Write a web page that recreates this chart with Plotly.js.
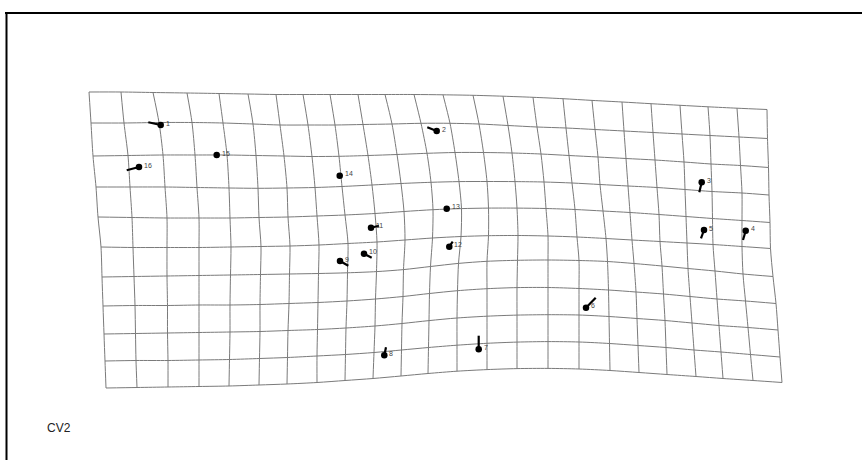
<!DOCTYPE html>
<html>
<head>
<meta charset="utf-8">
<script src="https://cdn.plot.ly/plotly-3.0.1.min.js"></script>
<style>
  html, body { margin: 0; padding: 0; background: #ffffff; }
  #chart { width: 862px; height: 460px; }
</style>
</head>
<body>
<div id="chart"></div>
<script>
// Deformation grid for CV2: node x positions, one array per grid column (top to bottom)
const colX = [
  [89, 91, 93, 96, 98, 101, 102, 103, 104, 105, 106],
  [121, 124, 128, 130, 132, 133, 134, 135, 135.5, 136, 137],
  [153, 159, 163, 165, 167, 167, 167, 167.5, 167.5, 168, 168],
  [187, 192, 195, 197, 199, 199, 199, 199, 199, 199, 199],
  [219, 223, 227, 229, 230, 231, 230.5, 230, 230, 229.5, 229],
  [248, 253, 256, 258, 259, 261, 260.5, 260, 260, 259.5, 259],
  [276, 280, 284, 287, 288, 290, 289.5, 289, 288, 287.5, 287],
  [303, 308, 312, 315, 317, 319, 318.5, 318, 317.5, 317, 317],
  [330, 335, 339, 342, 345, 348, 347.5, 347, 346, 345.5, 345],
  [358, 363, 368, 372, 375, 377, 376.5, 375.5, 375, 374, 373],
  [385, 392, 397, 401, 404, 405, 403.5, 403, 402, 401.5, 401],
  [414, 421, 427, 431, 433, 432.5, 430.5, 429.5, 429, 428.5, 428],
  [443, 450, 455, 459, 461.5, 461, 458.5, 457.5, 457, 457, 457],
  [473, 479, 483.5, 487, 488.5, 488.5, 487, 487, 487, 487, 487],
  [503, 508, 512, 515, 517, 518, 517.5, 517, 517, 517, 517],
  [533, 537, 541, 544, 546, 548, 548, 548, 548, 548, 548],
  [563, 566, 569, 572, 575, 577, 579, 579, 579, 579, 579],
  [592, 595, 598, 600, 603, 606, 607.5, 608.5, 609, 609.5, 610],
  [622, 624, 626, 628, 630, 632, 634, 636, 637, 638, 639],
  [651, 653, 655, 657, 659, 660, 662, 663.5, 665, 666, 667],
  [680, 682, 684, 685, 686, 687, 688, 690, 692, 694, 696],
  [708, 710, 711, 712, 712.5, 713, 715, 717, 719, 721, 723],
  [737, 739, 740.5, 742, 742, 742, 743, 745.5, 748, 750.5, 753],
  [767, 767.5, 768.5, 769, 770, 770.5, 773, 776, 778, 780, 782]
];

// Node y positions, one array per grid row (left to right)
const rowY = [
  [92, 92, 92.5, 93, 93.5, 94, 94.5, 94.5, 94.5, 94.5, 94.5, 94.5, 94.8, 95.3, 96.2, 97.3, 98.7, 100.4, 102, 103.7, 105.3, 106.8, 108.2, 109.5],
  [123, 123, 122.5, 122.5, 123, 124, 125, 125, 125, 124.5, 124, 123.3, 123.3, 124, 125.5, 127, 128, 129.5, 131, 132.5, 134, 135.5, 137, 138.5],
  [156, 155.5, 155, 155, 155, 155.5, 156, 156.5, 156.3, 155.5, 154.5, 153.3, 152.5, 152.5, 153, 154, 155.5, 157, 158.5, 160, 162, 164, 165.5, 167.5],
  [187, 187, 187, 187.5, 188, 188.3, 188, 187.5, 186.5, 185, 183.5, 182.3, 181.6, 181.5, 181.6, 182, 183, 184.5, 186, 187.5, 189.5, 191.5, 193, 195],
  [217, 217.5, 218, 218, 218, 217.5, 217, 216, 215, 213.5, 211.5, 209.7, 208.6, 208.1, 208.1, 208.5, 209.5, 211, 212.5, 214.5, 216.5, 218.5, 220.5, 222.5],
  [247, 247.5, 247.5, 247.5, 247, 246.5, 246, 245, 243.5, 242, 240, 238, 236.5, 235.7, 235.5, 236, 237, 238.5, 240, 241.5, 243, 244.5, 246.5, 248.5],
  [277, 276.5, 276, 275.5, 275, 274.5, 274, 273.5, 272.8, 271.6, 269.6, 266.5, 263.4, 261.3, 260.3, 260, 260.5, 261.5, 263.5, 266, 268.5, 271, 274, 276.5],
  [306, 305.5, 305.5, 305, 305, 304.5, 303.5, 302.5, 301, 299, 296.5, 293.5, 290.7, 288.7, 287.6, 287.5, 288.5, 290, 292, 294, 296.5, 299, 301, 303.5],
  [334, 333.5, 333, 332.5, 332, 331.5, 330.5, 329.5, 328, 326, 323.5, 320.6, 318, 316.2, 315.1, 314.7, 315, 316.5, 318.5, 320.5, 323, 325.5, 327.5, 330],
  [361, 360.5, 360.5, 360, 359.5, 358.5, 357.5, 356, 354.5, 352.5, 350, 347.5, 345.2, 343.3, 342.1, 341.6, 342, 343.5, 345.5, 347.5, 350, 352, 354.5, 357],
  [388, 387.5, 387, 386.5, 386, 385, 384, 382.5, 380.5, 378.5, 376, 373.5, 371.2, 369.6, 368.6, 368.4, 369, 370.5, 372.5, 374.5, 376.5, 378.5, 380.5, 382.5]
];

// Landmarks: labels, positions and shape-change vectors
const lmLabel = ['1', '2', '3', '4', '5', '6', '7', '8', '9', '10', '11', '12', '13', '14', '15', '16'];
const lmX  = [160.7, 436.7, 701.7, 745.7, 704, 586, 478.7, 384.3, 340, 364, 371, 449.3, 446.7, 339.7, 216.7, 139];
const lmY  = [125, 131, 182.3, 230.7, 230, 307.7, 349.3, 355.3, 261, 253.7, 227.7, 246.7, 208.7, 175.7, 155, 167];
const lmDX = [-12.4, -9.4, -2.4, -2.7, -3, 9.7, 0, 1.7, 8.3, 7.7, 8, 3.4, 0, 0, 1.6, -12.3];
const lmDY = [-2.7, -3.7, 10, 9.3, 8.3, -10, -13.6, -8, 4.7, 4, -2, -5, 0, 0, 2.3, 3.3];

const nRows = rowY.length;
const nCols = colX.length;

const traces = [];
const gridLine = { color: '#7a7a7a', width: 1, shape: 'spline', smoothing: 0.8 };

// horizontal grid lines
for (let r = 0; r < nRows; r++) {
  const xs = [], ys = [];
  for (let c = 0; c < nCols; c++) { xs.push(colX[c][r]); ys.push(rowY[r][c]); }
  traces.push({ type: 'scatter', mode: 'lines', x: xs, y: ys, line: gridLine, hoverinfo: 'skip', showlegend: false });
}
// vertical grid lines
for (let c = 0; c < nCols; c++) {
  const xs = [], ys = [];
  for (let r = 0; r < nRows; r++) { xs.push(colX[c][r]); ys.push(rowY[r][c]); }
  traces.push({ type: 'scatter', mode: 'lines', x: xs, y: ys, line: gridLine, hoverinfo: 'skip', showlegend: false });
}

// lollipop sticks
const sx = [], sy = [];
for (let i = 0; i < lmX.length; i++) {
  sx.push(lmX[i], lmX[i] + lmDX[i], null);
  sy.push(lmY[i], lmY[i] + lmDY[i], null);
}
traces.push({ type: 'scatter', mode: 'lines', x: sx, y: sy, line: { color: '#000000', width: 2.2 }, hoverinfo: 'skip', showlegend: false });

// landmark dots
traces.push({ type: 'scatter', mode: 'markers', x: lmX, y: lmY, text: lmLabel,
  marker: { color: '#000000', size: 6.5 }, hoverinfo: 'text', showlegend: false });

// landmark numbers
const annotations = lmLabel.map((t, i) => ({
  x: lmX[i], y: lmY[i], xref: 'x', yref: 'y', text: t, showarrow: false,
  xanchor: 'left', yanchor: 'middle', xshift: 3, yshift: 2,
  font: { family: 'Liberation Sans, Arial, sans-serif', size: 7, color: '#444444' }
}));
annotations.push({
  x: 45, y: 428, xref: 'x', yref: 'y', text: 'CV2', showarrow: false,
  xanchor: 'left', yanchor: 'middle',
  font: { family: 'Liberation Sans, Arial, sans-serif', size: 12, color: '#222222' }
});

const layout = {
  width: 862, height: 460,
  margin: { l: 0, r: 0, t: 0, b: 0 },
  paper_bgcolor: '#ffffff', plot_bgcolor: '#ffffff',
  xaxis: { range: [0, 862], visible: false, fixedrange: true },
  yaxis: { range: [460, 0], visible: false, fixedrange: true },
  showlegend: false,
  annotations: annotations,
  shapes: [
    { type: 'line', xref: 'x', yref: 'y', x0: 5, x1: 862, y0: 13, y1: 13, line: { color: '#000000', width: 2 } },
    { type: 'line', xref: 'x', yref: 'y', x0: 6.5, x1: 6.5, y0: 12, y1: 460, line: { color: '#000000', width: 2 } }
  ]
};

Plotly.newPlot('chart', traces, layout, { staticPlot: true, displayModeBar: false });
</script>
</body>
</html>
